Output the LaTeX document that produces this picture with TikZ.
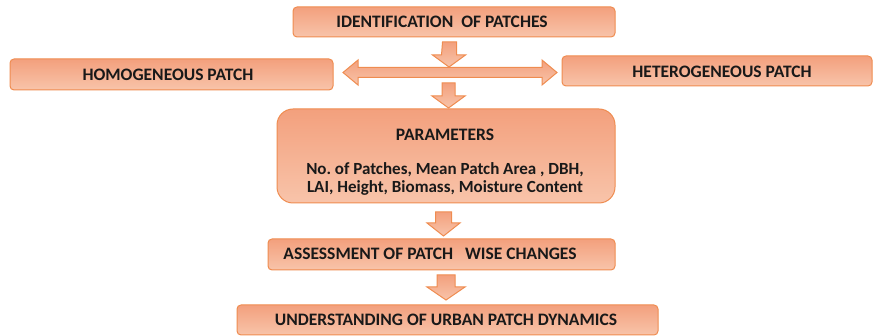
\documentclass[tikz,border=0pt]{standalone}
\usepackage{fontspec}
\setmainfont{Carlito}
\usetikzlibrary{calc}
\frenchspacing
\definecolor{boxtop}{HTML}{F3A07D}
\definecolor{boxbot}{HTML}{F8C4AA}
\definecolor{boxline}{HTML}{EF8C50}
\tikzset{
  box/.style={draw=boxline, line width=1pt, top color=boxtop, bottom color=boxbot,
    rounded corners=4pt, inner sep=0pt},
  lbl/.style={font=\fontsize{17.5}{19}\selectfont\bfseries, text=black!90, inner sep=0pt},
  plbl/.style={font=\fontsize{17}{18.5}\selectfont\bfseries, text=black!90, inner sep=0pt},
  blockarrow/.style={draw=boxline, line width=1pt, top color=boxtop, bottom color=boxbot, line join=miter}
}
\begin{document}
\begin{tikzpicture}[x=1pt,y=-1pt]
\useasboundingbox (0,0) rectangle (875,336);
% boxes
\node[box, minimum width=322pt, minimum height=30pt] (idbox) at (454,22) {};
\node[lbl] (idtxt) at (442,22) {IDENTIFICATION\ \ OF PATCHES};
\node[box, minimum width=323pt, minimum height=31pt] (homobox) at (171.5,74.5) {};
\node[lbl] (homotxt) at (168,75) {HOMOGENEOUS PATCH};
\node[box, minimum width=310pt, minimum height=30pt] (hetbox) at (717,71) {};
\node[lbl] (hettxt) at (722,72) {HETEROGENEOUS PATCH};
\node[box, rounded corners=16pt, minimum width=338pt, minimum height=94pt] (parbox) at (446,156) {};
\node[lbl] (partitle) at (445,135) {PARAMETERS};
\node[plbl, align=center] (parlist) at (445,179) {No. of Patches, Mean Patch Area , DBH,\\[0pt]LAI, Height, Biomass, Moisture Content};
\node[box, minimum width=347pt, minimum height=31pt] (assbox) at (441.5,254.5) {};
\node[lbl] (asstxt) at (430,254) {ASSESSMENT OF PATCH\ \ \ WISE CHANGES};
\node[box, minimum width=421pt, minimum height=30pt] (undbox) at (447.5,320) {};
\node[lbl] (undtxt) at (446,320) {UNDERSTANDING OF URBAN PATCH DYNAMICS};
% block arrows
\coordinate (a1) at (449.5,42);
\draw[blockarrow] (a1) ++(-7,0) -- ++(14,0) -- ++(0,13) -- ++(9,0) -- ++(-16.5,12) -- ++(-16.5,-12) -- ++(9,0) -- cycle;
\coordinate (a2) at (448.5,83);
\draw[blockarrow] (a2) ++(-6.5,0) -- ++(13,0) -- ++(0,13) -- ++(10,0) -- ++(-16.5,12) -- ++(-16.5,-12) -- ++(10,0) -- cycle;
\coordinate (a3) at (443.5,212);
\draw[blockarrow] (a3) ++(-8,0) -- ++(16,0) -- ++(0,11) -- ++(8.5,0) -- ++(-16.5,13) -- ++(-16.5,-13) -- ++(8.5,0) -- cycle;
\coordinate (a4) at (446,275);
\draw[blockarrow] (a4) ++(-9,0) -- ++(18,0) -- ++(0,12) -- ++(10,0) -- ++(-19,13) -- ++(-19,-13) -- ++(10,0) -- cycle;
% double arrow
\coordinate (dl) at (343,72.5);
\coordinate (dr) at (557,72.5);
\draw[blockarrow] (dl) -- ++(15,-12.5) -- ++(0,7.5) -- ($(dr)+(-15,-5)$) -- ++(0,-7.5) -- (dr) -- ++(-15,12.5) -- ++(0,-7.5) -- ($(dl)+(15,5)$) -- ++(0,7.5) -- cycle;
\end{tikzpicture}
\end{document}
